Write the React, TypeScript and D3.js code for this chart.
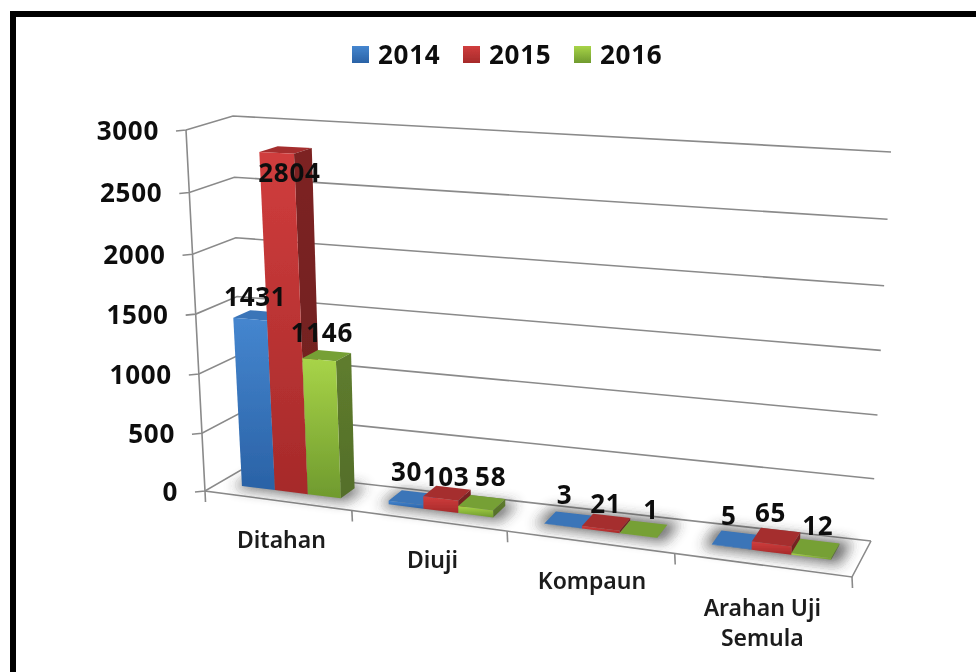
import React from "react";
import * as d3 from "d3";

const categories = ["Ditahan", "Diuji", "Kompaun", "Arahan Uji|Semula"];
const seriesNames = ["2014", "2015", "2016"];
const values2014 = [1431, 30, 3, 5];
const values2015 = [2804, 103, 21, 65];
const values2016 = [1146, 58, 1, 12];
const yTicks = [0, 500, 1000, 1500, 2000, 2500, 3000];

const allValues = [values2014, values2015, values2016];

type Pt = [number, number];

// The eight corners of the chart box on screen
const FBL: Pt = [205, 491], FBR: Pt = [852, 577], BBL: Pt = [241, 470], BBR: Pt = [871, 541];
const FTL: Pt = [186, 130], FTR: Pt = [873, 157], BTL: Pt = [233, 116], BTR: Pt = [891, 152];

// Foreshortening of the category and value axes
const uScale = d3.scaleLinear().domain([0, 1, 2, 3, 4]).range([0, 0.227, 0.467, 0.726, 1]);
const hScale = d3.scaleLinear().domain(yTicks).range([0, 0.16, 0.324, 0.49, 0.656, 0.827, 1]);

const lerp = (a: Pt, b: Pt, t: number): Pt => [a[0] + (b[0] - a[0]) * t, a[1] + (b[1] - a[1]) * t];
const project = (u: number, v: number, h: number): Pt => {
  const bottom = lerp(lerp(FBL, FBR, u), lerp(BBL, BBR, u), v);
  const top = lerp(lerp(FTL, FTR, u), lerp(BTL, BTR, u), v);
  return lerp(bottom, top, h);
};
const BAR_LEAN = 5;
const barPoint = (u: number, v: number, h: number): Pt => {
  const p = project(u, v, h);
  return [p[0] - BAR_LEAN * h, p[1]];
};
const poly = d3.line<Pt>().curve(d3.curveLinearClosed);
const open = d3.line<Pt>();

const BAND = 0.68;
const V0 = 0.38;
const V1 = 0.8;
const slot = (c: number, s: number) => uScale(c + (1 - BAND) / 2 + (s * BAND) / 3);

const palette = [
  { top: "#3a74b8", side: "#2b5a94", a: "#4586cf", b: "#2a62a6" },
  { top: "#a52f2f", side: "#7d2322", a: "#d03d3d", b: "#a62a2a" },
  { top: "#76a034", side: "#5f7d2e", a: "#a8d448", b: "#6f9a2e" },
];

// Where each value label sits relative to the top of its bar: [series][category]
const labelDX = [[-8, -8, -6, -9], [-3.5, -3, -2, -7], [-9, 7, 6, 1]];
const labelDY = [[-18, -25, -24, -23], [23, -16, -17, -23], [-22, -25, -18, -21]];
const catDX = [3, 3, 1, -1];

const boldFont = "'Open Sans', sans-serif";
const catFont = "'Noto Sans', sans-serif";
const ink = "#111";
const boldSize = 26;
const boldSpacing = 0.7;

export default function App() {
  return (
    <svg width={976} height={672} style={{ position: "absolute", left: 0, top: 0, background: "#fff" }}>
      <defs>
        <filter id="soft" filterUnits="userSpaceOnUse" x={0} y={0} width={976} height={672}>
          <feGaussianBlur stdDeviation={0.55} />
        </filter>
        <filter id="shadow" filterUnits="userSpaceOnUse" x={0} y={0} width={976} height={672}>
          <feGaussianBlur stdDeviation={6.5} />
        </filter>
        {palette.map((p, i) => (
          <linearGradient key={i} id={`g${i}`} x1={0} y1={0} x2={0} y2={1}>
            <stop offset="0%" stopColor={p.a} />
            <stop offset="100%" stopColor={p.b} />
          </linearGradient>
        ))}
        {palette.map((p, i) => (
          <linearGradient key={i} id={`s${i}`} x1={0} y1={0} x2={0} y2={1}>
            <stop offset="0%" stopColor={p.side} />
            <stop offset="100%" stopColor={d3.color(p.side)!.darker(0.35).formatHex()} />
          </linearGradient>
        ))}
      </defs>

      <g filter="url(#soft)">
        {/* outer frame */}
        <path d={open([[13, 672], [13, 14], [976, 14]])!} fill="none" stroke="#000" strokeWidth={6} />

        {/* legend */}
        {seriesNames.map((n, i) => {
          const x = 352 + i * 111;
          return (
            <g key={n}>
              <rect x={x} y={46} width={17} height={17} fill={`url(#g${i})`} />
              <text x={x + 26} y={54} dominantBaseline="central" fontFamily={boldFont} fontWeight={700} fontSize={boldSize} letterSpacing={boldSpacing} fill={ink}>
                {n}
              </text>
            </g>
          );
        })}

        {/* walls: grid lines */}
        <g fill="none" stroke="#8a8a8a" strokeWidth={1.6}>
          {yTicks.map((t) => {
            const h = hScale(t);
            const fl = project(0, 0, h);
            return (
              <g key={t}>
                <path d={open([[fl[0] - 10, fl[1] + 1], fl, project(0, 1, h), project(1, 1, h)])!} />
              </g>
            );
          })}
          <path d={open([project(0, 0, 1), project(0, 0, 0), project(1, 0, 0), project(1, 1, 0)])!} />
          {[0, 1, 2, 3, 4].map((c) => {
            const p = project(uScale(c), 0, 0);
            return <path key={c} d={open([p, [p[0] + 0.5, p[1] + 11]])!} />;
          })}
        </g>

        {/* y tick labels */}
        {yTicks.map((t) => {
          const p = project(0, 0, hScale(t));
          return (
            <text key={t} x={p[0] - 27} y={p[1]} textAnchor="end" dominantBaseline="central" fontFamily={boldFont} fontWeight={700} fontSize={boldSize} letterSpacing={boldSpacing} fill={ink}>
              {t}
            </text>
          );
        })}

        {/* floor shadows */}
        <g filter="url(#shadow)" opacity={0.7}>
          {categories.map((_, c) => (
            <path
              key={c}
              fill="#333"
              d={poly([
                project(uScale(c + 0.12), V0 - 0.1, 0),
                project(uScale(c + 0.9), V0 - 0.1, 0),
                project(uScale(c + 0.9), V1 + 0.12, 0),
                project(uScale(c + 0.12), V1 + 0.12, 0),
              ])!}
            />
          ))}
        </g>

        {/* bars */}
        {categories.map((_, c) =>
          seriesNames.map((_, s) => {
            const h = hScale(allValues[s][c]);
            const u0 = slot(c, s);
            const u1 = slot(c, s + 1);
            return (
              <g key={`${c}-${s}`}>
                <path fill={palette[s].top} d={poly([barPoint(u0, V0, h), barPoint(u1, V0, h), barPoint(u1, V1, h), barPoint(u0, V1, h)])!} />
                <path fill={`url(#s${s})`} d={poly([barPoint(u1, V0, h), barPoint(u1, V1, h), barPoint(u1, V1, 0), barPoint(u1, V0, 0)])!} />
                <path fill={`url(#g${s})`} d={poly([barPoint(u0, V0, h), barPoint(u1, V0, h), barPoint(u1, V0, 0), barPoint(u0, V0, 0)])!} />
              </g>
            );
          })
        )}

        {/* category labels */}
        {categories.map((name, c) => {
          const p = project(uScale(c + 0.5), 0, 0);
          const lines = name.split("|");
          return lines.map((ln, i) => (
            <text
              key={ln}
              x={p[0] + catDX[c]}
              y={p[1] + 38 + (lines.length > 1 ? 4 : 0) + i * 30}
              textAnchor="middle"
              dominantBaseline="central"
              fontFamily={catFont}
              fontWeight={600}
              fontSize={23}
              fill="#1a1a1a"
            >
              {ln}
            </text>
          ));
        })}

        {/* value labels */}
        {categories.map((_, c) =>
          seriesNames.map((_, s) => {
            const v = allValues[s][c];
            const p = project((slot(c, s) + slot(c, s + 1)) / 2, 0.65, hScale(v));
            return (
              <text
                key={`${c}-${s}`}
                x={p[0] + labelDX[s][c]}
                y={p[1] + labelDY[s][c]}
                textAnchor="middle"
                dominantBaseline="central"
                fontFamily={boldFont}
                fontWeight={700}
                fontSize={boldSize}
                letterSpacing={boldSpacing}
                fill={ink}
              >
                {v}
              </text>
            );
          })
        )}
      </g>
    </svg>
  );
}
